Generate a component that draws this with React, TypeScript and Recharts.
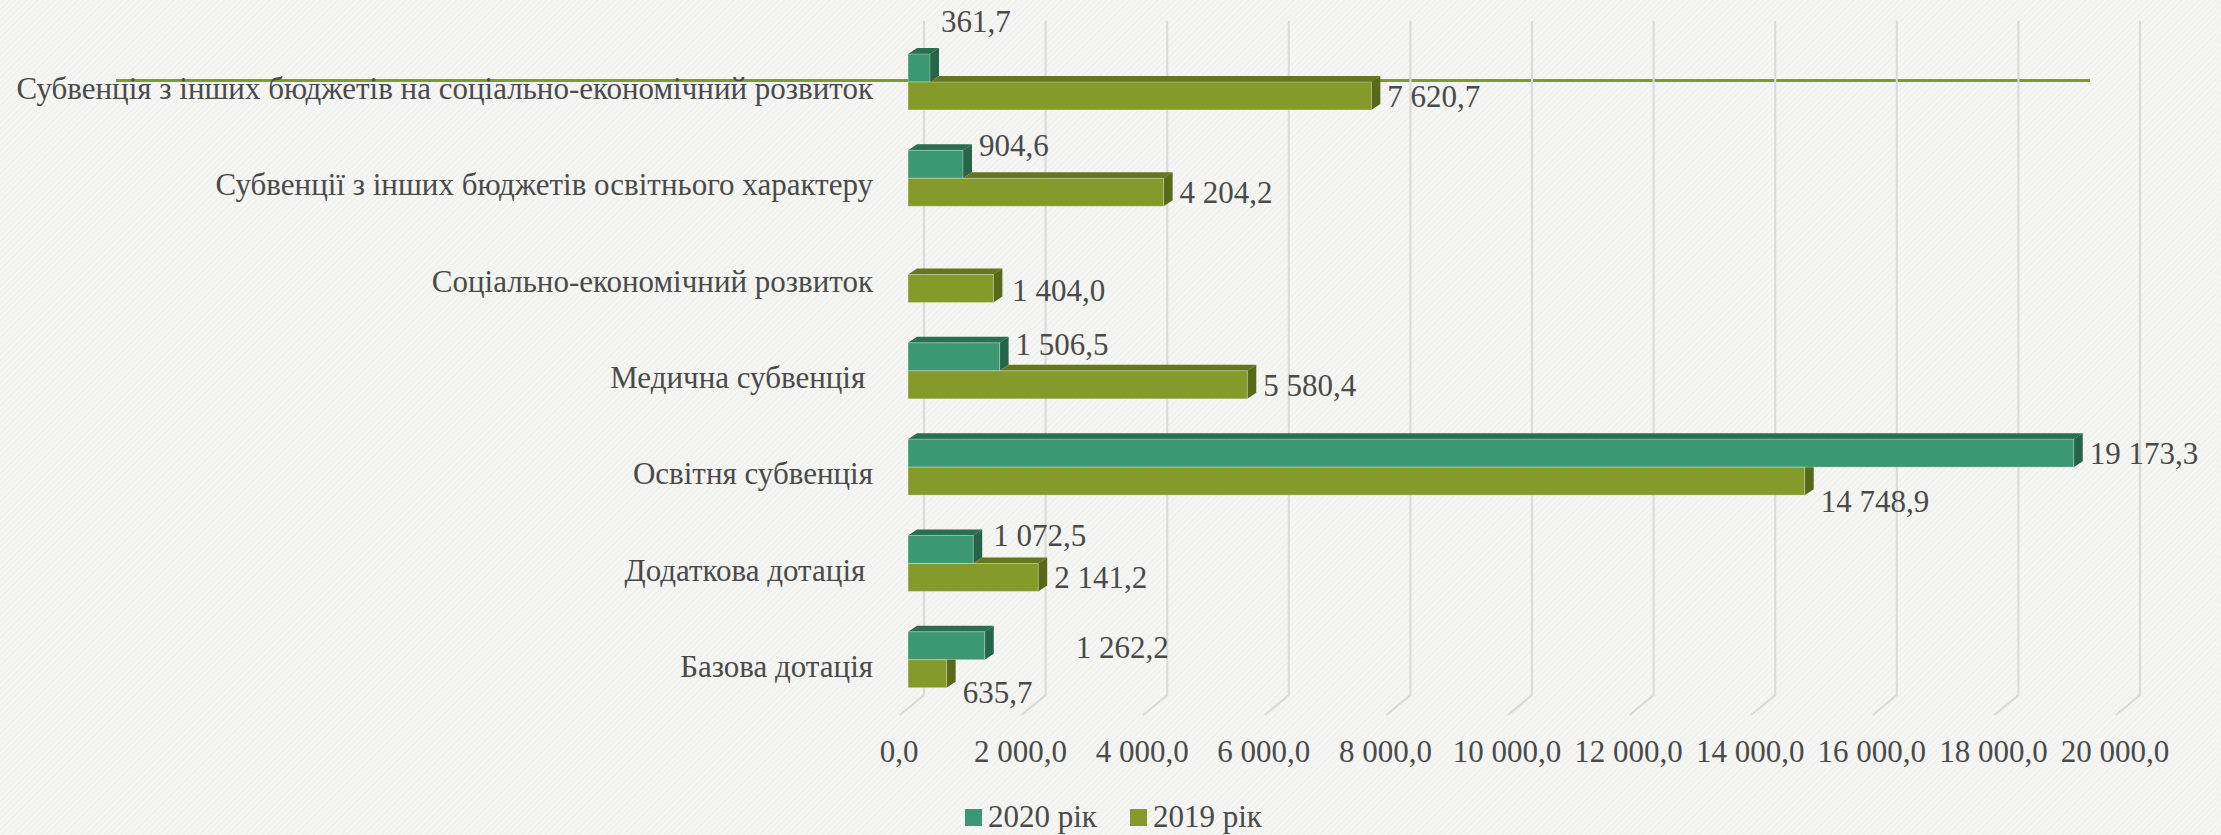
import { Bar, BarChart, CartesianGrid, LabelList, XAxis, YAxis } from "recharts";

const categories = [
  "Субвенція з інших бюджетів на соціально-економічний розвиток",
  "Субвенції з інших бюджетів освітнього характеру",
  "Соціально-економічний розвиток",
  "Медична субвенція ",
  "Освітня субвенція",
  "Додаткова дотація ",
  "Базова дотація",
];
const values2020 = [361.7, 904.6, null, 1506.5, 19173.3, 1072.5, 1262.2];
const values2019 = [7620.7, 4204.2, 1404.0, 5580.4, 14748.9, 2141.2, 635.7];
const xTicks = [0, 2000, 4000, 6000, 8000, 10000, 12000, 14000, 16000, 18000, 20000];

const series = [
  { key: "y2020", name: "2020 рік", front: "#3b9873", top: "#2b6d51", side: "#27654a" },
  { key: "y2019", name: "2019 рік", front: "#869a2c", top: "#64761f", side: "#58691a" },
];

// hand-moved data labels in the original: [dx, dy] nudges, per category
const shift2020 = [[-5, -33], [0, -5], [0, 0], [0, 1], [0, 14], [4, 0], [75, 15]];
const shift2019 = [[0, 0], [0, 0], [3, 1], [0, 0], [0, 20], [0, 0], [0, 18]];

const data = categories.map((name, i) => ({ name, y2020: values2020[i], y2019: values2019[i] }));

const FONT = "'Liberation Serif', 'Times New Roman', serif";
const FS = 31;
const TEXT = "#4a4a4a";
const txt = { fontFamily: FONT, fontSize: FS };
const DX = 9;
const DY = 6;

const fmt = (v: number) => {
  const [i, d] = v.toFixed(1).split(".");
  return i.replace(/\B(?=(\d{3})+(?!\d))/g, " ") + "," + d;
};

const pts = (p: number[][]) => p.map((q) => q.join(",")).join(" ");

function Bar2020(props: any) {
  const { x, y, width: w, height: h, payload } = props;
  if (payload.y2020 == null) return <g />;
  const s = series[0];
  return (
    <g>
      <polygon points={pts([[x, y], [x + DX, y - DY], [x + w + DX, y - DY], [x + w, y]])} fill={s.top} />
      <polygon points={pts([[x + w, y], [x + w + DX, y - DY], [x + w + DX, y + h - DY], [x + w, y + h]])} fill={s.side} />
      <rect x={x} y={y} width={w} height={h} fill={s.front} stroke="rgba(255,255,255,0.3)" strokeWidth={1} />
    </g>
  );
}

function Bar2019(props: any) {
  const { x, y, width: w, height: h, payload } = props;
  const s = series[1];
  const tw = payload.y2020 ? (w * payload.y2020) / payload.y2019 : 0;
  const side =
    tw > w
      ? [[x + w, y], [x + w + DX, y], [x + w + DX, y + h - DY], [x + w, y + h]]
      : [[x + w, y], [x + w + DX, y - DY], [x + w + DX, y + h - DY], [x + w, y + h]];
  return (
    <g>
      {tw < w && (
        <polygon points={pts([[x + tw, y], [x + tw + DX, y - DY], [x + w + DX, y - DY], [x + w, y]])} fill={s.top} />
      )}
      <polygon points={pts(side)} fill={s.side} />
      <rect x={x} y={y} width={w} height={h} fill={s.front} stroke="rgba(255,255,255,0.3)" strokeWidth={1} />
    </g>
  );
}

function makeLabel(values: (number | null)[], shift: number[][], base: number) {
  return (props: any) => {
    const { x, y, width, value } = props;
    if (value == null) return null;
    const [sx, sy] = shift[values.indexOf(value)] || [0, 0];
    return (
      <text x={x + width + 16 + sx} y={y + base + sy + 10} fill={TEXT} style={txt} textAnchor="start">
        {fmt(value)}
      </text>
    );
  };
}

function CategoryTick({ x, y, payload }: any) {
  return (
    <text x={x - 35} y={y + 17} fill={TEXT} style={{ ...txt, whiteSpace: "pre" }} textAnchor="end">
      {payload.value}
    </text>
  );
}

function ValueTick({ x, y, payload }: any) {
  return (
    <text x={x - 9} y={y + 54} fill={TEXT} style={txt} textAnchor="middle">
      {fmt(payload.value)}
    </text>
  );
}

function GridLine(props: any) {
  const { x1, y1, y2 } = props;
  return (
    <path
      d={`M${x1 + 16},${y1 - 13} L${x1 + 16},${y2 - 13} L${x1 - 8},${y2 + 7}`}
      stroke="#d9d9d9"
      strokeWidth={2}
      fill="none"
    />
  );
}

export default function App() {
  return (
    <div
      style={{
        position: "absolute",
        left: 0,
        top: 0,
        width: 2221,
        height: 835,
        background: "repeating-linear-gradient(135deg, #f6f6f5 0px, #f6f6f5 2px, #f1f1ef 2px, #f1f1ef 4px)",
        overflow: "hidden",
      }}
    >
      <div style={{ position: "absolute", left: 116, top: 79, width: 1974, height: 3, background: "#7f9b2b" }} />
      <div style={{ position: "absolute", left: 0, top: 0 }}>
        <BarChart
          width={2221}
          height={835}
          data={data}
          layout="vertical"
          barSize={28}
          barGap={0}
          margin={{ top: 34, right: 97, left: 0, bottom: 0 }}
        >
          <CartesianGrid horizontal={false} vertical={GridLine} />
          <XAxis
            type="number"
            domain={[0, 20000]}
            ticks={xTicks}
            height={127}
            axisLine={false}
            tickLine={false}
            tickSize={0}
            tickMargin={0}
            tick={<ValueTick />}
            interval={0}
          />
          <YAxis
            type="category"
            dataKey="name"
            width={908}
            axisLine={false}
            tickLine={false}
            tickSize={0}
            tickMargin={0}
            tick={<CategoryTick />}
            interval={0}
          />
          <Bar dataKey="y2020" name={series[0].name} fill={series[0].front} shape={Bar2020} isAnimationActive={false}>
            <LabelList dataKey="y2020" content={makeLabel(values2020, shift2020, 1)} />
          </Bar>
          <Bar dataKey="y2019" name={series[1].name} fill={series[1].front} shape={Bar2019} isAnimationActive={false}>
            <LabelList dataKey="y2019" content={makeLabel(values2019, shift2019, 15)} />
          </Bar>
        </BarChart>
      </div>
      {series.map((s, i) => (
        <div
          key={s.key}
          style={{
            position: "absolute",
            left: i === 0 ? 965 : 1130,
            top: 800,
            display: "flex",
            alignItems: "center",
            fontFamily: FONT,
            fontSize: FS,
            lineHeight: "34px",
            color: TEXT,
          }}
        >
          <span style={{ width: 17, height: 17, background: s.front, marginRight: 6, display: "inline-block" }} />
          {s.name}
        </div>
      ))}
    </div>
  );
}
